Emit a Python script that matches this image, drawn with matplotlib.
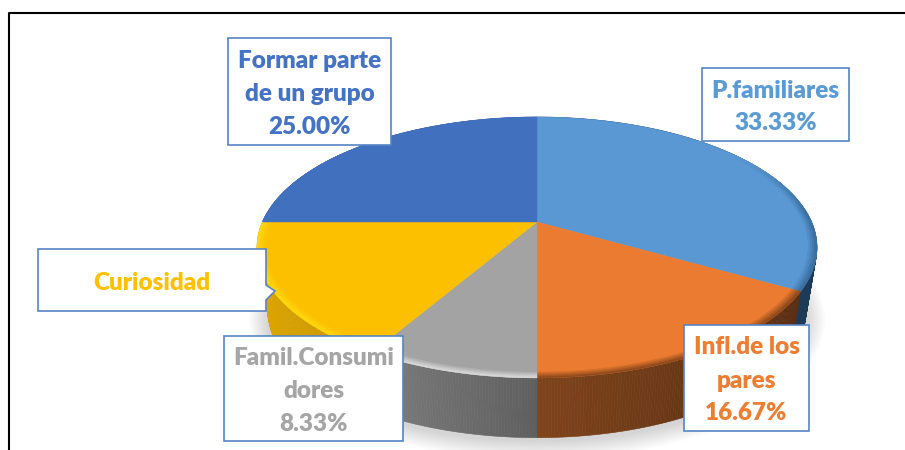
import numpy as np
import matplotlib
matplotlib.use("Agg")
import matplotlib.pyplot as plt
from matplotlib.collections import PolyCollection
from matplotlib.colors import to_rgb
from matplotlib.patches import Ellipse, Polygon, Rectangle

# clockwise from 12 o'clock
categories = ["P.familiares", "Infl.de los pares", "Famil.Consumidores", "Curiosidad", "Formar parte de un grupo"]
values = [33.33, 16.67, 8.33, 16.67, 25.00]
label_lines = [
    ["P.familiares", "33.33%"],
    ["Infl.de los", "pares", "16.67%"],
    ["Famil.Consumi", "dores", "8.33%"],
    ["Curiosidad"],
    ["Formar parte", "de un grupo", "25.00%"],
]
face_colors = ["#5a98d4", "#ea7b30", "#a3a3a3", "#fcc000", "#4170bf"]
text_colors = ["#5b9bd5", "#ed7d31", "#a5a5a5", "#ffc000", "#4472c4"]
bevel_colors = ["#3a6f9f", "#8f4a1c", "#d8d8d8", "#ffd810", "#4170bf"]
wall_left = ["#2a5578", "#7f441b", "#7c7c7c", "#dba400", "#2f5597"]
wall_right = ["#1d3a57", "#592d11", "#5f5f5f", "#c79400", "#2f5597"]

# label boxes: x0, y0, x1, y1 in image pixels
boxes = [(702, 68, 849, 141), (684, 325, 809, 431), (224, 336, 403, 441),
         (38, 249, 266, 311), (228, 38, 391, 145)]

APEX = (537, 222)
K = 0.195
A, B = 274.6, 125.5
FLOOR = (537, 288)
FLOOR_SCALE = 0.96


def disk_point(theta, r=1.0):
    """Perspective view of a point on the disk, theta clockwise from the top in radians."""
    u = r * np.sin(theta)
    v = r * np.cos(theta)
    w = 1 + K * v
    return A * u / w, -B * v / w


def top_xy(theta, r=1.0):
    dx, dy = disk_point(theta, r)
    return APEX[0] + dx, APEX[1] + dy


def floor_xy(theta):
    dx, dy = disk_point(theta)
    return FLOOR[0] + FLOOR_SCALE * dx, FLOOR[1] + FLOOR_SCALE * dy


def mix(c1, c2, t):
    return tuple((1 - t) * np.array(to_rgb(c1)) + t * np.array(to_rgb(c2)))


fig = plt.figure(figsize=(9.05, 4.5), dpi=100)
ax = fig.add_axes([0, 0, 1, 1])
ax.set_xlim(0, 905)
ax.set_ylim(450, 0)
ax.axis('off')

# frame of the pasted picture
ax.plot([8.5, 8.5, 905], [450, 13, 13], color='black', lw=1.5, zorder=1)

# soft shadow
for grow in np.linspace(18, 0, 14):
    ax.add_patch(Ellipse((537, 320), 2 * (270 + grow), 2 * (122 + grow), fc='black', ec='none',
                         alpha=0.012, zorder=2))

edges = np.radians(np.concatenate([[0], np.cumsum(values)]) / np.sum(values) * 360)

# walls
for i in range(len(values)):
    thetas = np.linspace(edges[i], edges[i + 1], int(np.degrees(edges[i + 1] - edges[i])) * 2 + 1)
    quads, colors = [], []
    for t0, t1 in zip(thetas[:-1], thetas[1:]):
        x0, y0 = top_xy(t0)
        x1, y1 = top_xy(t1)
        x2, y2 = floor_xy(t1)
        x3, y3 = floor_xy(t0)
        quads.append([(x0, y0), (x1, y1), (x2, y2), (x3, y3)])
        # slice i shaded along its own width, darker to the right
        xs = [top_xy(a)[0] for a in (edges[i], edges[i + 1])]
        frac = (x0 - min(xs)) / max(max(xs) - min(xs), 1)
        colors.append(mix(wall_left[i], wall_right[i], np.clip(frac, 0, 1)))
    ax.add_collection(PolyCollection(quads, facecolors=colors, edgecolors=colors, linewidths=0.4, zorder=3))

# faces
for i in range(len(values)):
    thetas = np.linspace(edges[i], edges[i + 1], 200)
    pts = [APEX] + [top_xy(t) for t in thetas]
    ax.add_patch(Polygon(pts, closed=True, fc=face_colors[i], ec=face_colors[i], lw=0.3, zorder=4))

# bevel along the near rim
ring = np.linspace(0.97, 1.0, 5)
for i in range(len(values)):
    thetas = np.linspace(edges[i], edges[i + 1], int(np.degrees(edges[i + 1] - edges[i])) * 2 + 1)
    quads, colors = [], []
    for t0, t1 in zip(thetas[:-1], thetas[1:]):
        strength = np.clip((0.6 - np.cos(t0)) / 0.5, 0, 1)
        if strength == 0:
            continue
        for j in range(len(ring) - 1):
            quads.append([top_xy(t0, ring[j]), top_xy(t1, ring[j]), top_xy(t1, ring[j + 1]), top_xy(t0, ring[j + 1])])
            colors.append(mix(face_colors[i], bevel_colors[i], strength * (j + 1) / (len(ring) - 1)))
    ax.add_collection(PolyCollection(quads, facecolors=colors, edgecolors=colors, linewidths=0.3, zorder=5))

# label boxes
for i, (x0, y0, x1, y1) in enumerate(boxes):
    if categories[i] == "Curiosidad":
        pts = [(x0, y0), (x1, y0), (x1, 285), (275, 291), (x1, 300), (x1, y1), (x0, y1)]
        ax.add_patch(Polygon(pts, closed=True, fc='white', ec='#5585c4', lw=1.2, zorder=6))
    else:
        ax.add_patch(Rectangle((x0, y0), x1 - x0, y1 - y0, fc='white', ec='#5585c4', lw=1.2, zorder=6))
    yc = (y0 + y1) / 2
    n = len(label_lines[i])
    for j, line in enumerate(label_lines[i]):
        ax.text((x0 + x1) / 2, yc + 2.5 + (j - (n - 1) / 2) * 33, line, color=text_colors[i], ha='center', va='center',
                family='Lato', weight='heavy', fontsize=17.5, zorder=7)

plt.savefig("out.png", dpi=100)
